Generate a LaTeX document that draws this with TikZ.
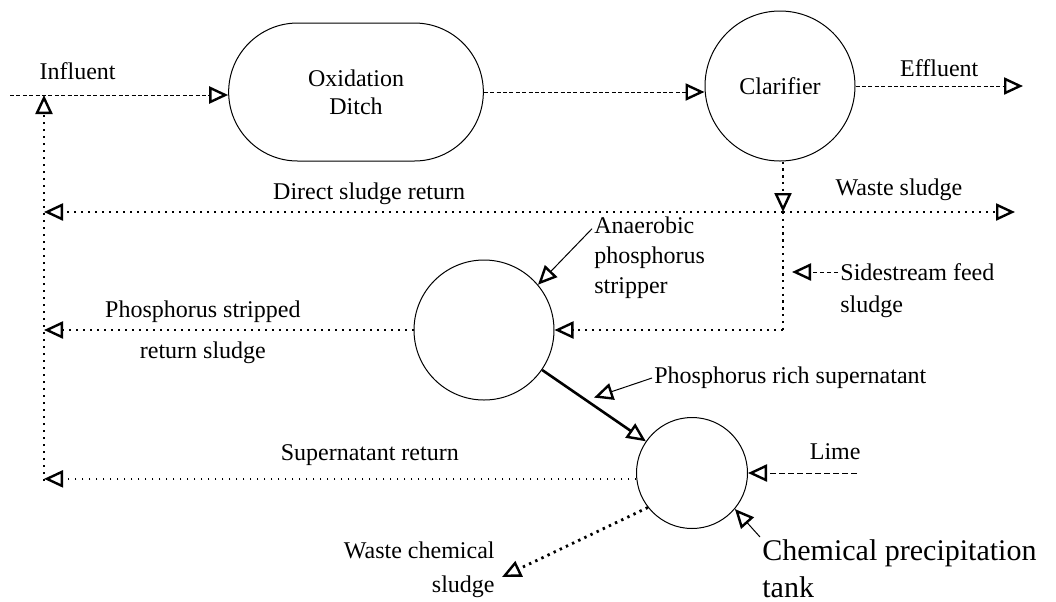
\documentclass[tikz,border=0pt]{standalone}
\usepackage{fontspec}
\setmainfont{Liberation Serif}
\usetikzlibrary{arrows.meta,shapes.misc,calc}

\begin{document}
\begin{tikzpicture}[
        x=0.5pt, y=-0.5pt,
        font=\fontsize{12}{15}\selectfont,
        ditch/.style={draw, rounded rectangle, line width=0.5pt, minimum width=134pt, minimum height=69pt, align=center},
        vessel/.style={draw, circle, line width=0.5pt, inner sep=0pt},
        note/.style={inner sep=1pt, align=left},
        tip/.style={-{Triangle[open, length=9.5pt, width=8.5pt, line width=1.2pt]}},
        fineflow/.style={tip, line width=0.5pt, dash pattern=on 2pt off 1.2pt},
        dotflow/.style={tip, line width=0.9pt, dash pattern=on 0.9pt off 2.6pt},
        heavyline/.style={line width=1.4pt, dash pattern=on 1.2pt off 2.2pt},
        heavyflow/.style={tip, heavyline},
        solidflow/.style={tip, line width=1.3pt},
        pointer/.style={tip, line width=0.5pt},
    ]
    \useasboundingbox (0,0) rectangle (1056,601);

    % Vessels
    \node[ditch] (ditch) at (356,92) {Oxidation\\[-1pt]Ditch};
    \node[vessel, minimum size=75pt] (clar) at (780,86) {Clarifier};
    \node[vessel, minimum size=70pt] (strip) at (484,330) {};
    \node[vessel, minimum size=55.5pt] (tank) at (692,473) {};

    % Free ends
    \coordinate (inflow) at (10,95);
    \coordinate (effout) at (1023,86);
    \coordinate (junc) at (783,212);
    \coordinate (wasteout) at (1015,212);
    \coordinate (retbot) at (44,481);
    \coordinate (sidetip) at (792,272);
    \coordinate (limein) at (857,473);
    \coordinate (wcsout) at (502,577);

    % Labels
    \node[note, anchor=west] (side) at (838,272) {Sidestream feed};
    \node[note, anchor=west] (sidesl) at (838,307) {sludge};
    \node[note, anchor=west] (ana) at (592,258) {Anaerobic\\phosphorus\\stripper};
    \node[note, anchor=west] (prs) at (652,378) {Phosphorus rich supernatant};
    \node[note, anchor=north west, font=\fontsize{15}{18.5}\selectfont] (cpt) at (760,537) {Chemical precipitation\\tank};
    \node[note, align=right, anchor=east, font=\fontsize{12}{17}\selectfont] (wcs) at (497,570) {Waste chemical\\sludge};

    % Main line
    \draw[fineflow] (inflow) -- (inflow -| ditch.west) node[pos=0.31, above, yshift=4pt] {Influent};
    \draw[fineflow] (ditch.east) -- (ditch.east -| clar.west);
    \draw[fineflow] (clar.east) -- (effout) node[midway, above, yshift=1pt] {Effluent};

    % Sludge lines
    \draw[heavyflow] (junc |- clar.south) -- (junc);
    \draw[dotflow] (junc) -- (junc -| retbot) node[pos=0.56, above] {Direct sludge return};
    \draw[dotflow] (junc) -- (wasteout) node[midway, above, yshift=2pt] {Waste sludge};
    \draw[heavyline] (junc) -- (junc |- strip.east);
    \draw[dotflow] (junc |- strip.east) -- (strip.east);
    \draw[dotflow] (strip.west) -- (strip.west -| retbot)
        node[pos=0.57, above] {Phosphorus stripped}
        node[pos=0.57, below, yshift=-2pt] {return sludge};
    \draw[solidflow] (strip) -- coordinate[pos=0.5] (mid) (tank);
    \draw[dotflow] (tank.186) -- (tank.186 -| retbot) node[pos=0.45, above, yshift=3pt] {Supernatant return};
    \draw[dotflow] (retbot) -- (retbot |- inflow);
    \draw[heavyflow] (tank.218) -- (wcsout);
    \draw[tip, line width=0.5pt, dash pattern=on 3pt off 1.5pt] (limein) -- (tank.east) node[pos=0.2, above, yshift=3pt] (lime) {Lime};

    % Pointers
    \draw[pointer, dash pattern=on 2pt off 1.5pt] (side.west) -- (sidetip);
    \draw[pointer] ([yshift=-7pt]ana.north west) -- (strip.40);
    \draw[pointer] (prs.west) -- ([yshift=4pt]mid);
    \draw[pointer] (cpt.north west) -- (tank.-40);

\end{tikzpicture}
\end{document}
